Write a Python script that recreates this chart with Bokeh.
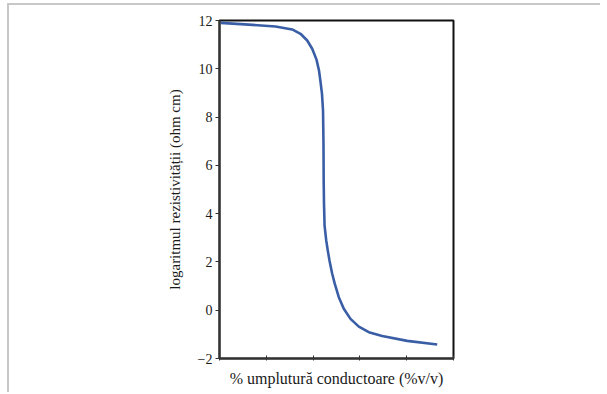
from bokeh.plotting import figure
from bokeh.embed import file_html
from bokeh.resources import INLINE
from bokeh.models import FixedTicker, Range1d

# data (filler % v/v, log resistivity)
filler = [0.21, 6.26, 11.97, 15.53, 17.31, 18.74, 19.81, 20.73, 21.26, 21.58, 21.90,
          22.12, 22.22, 22.26, 22.33, 22.45, 22.80, 23.14, 23.50, 24.08, 24.64, 25.49,
          26.56, 27.99, 29.77, 31.90, 34.76, 40.11, 46.52]
log_res = [11.90, 11.83, 11.75, 11.63, 11.45, 11.17, 10.83, 10.38, 9.93, 9.47, 8.96,
           8.27, 6.89, 5.37, 4.41, 3.50, 2.90, 2.47, 2.06, 1.51, 1.09, 0.54,
           0.06, -0.36, -0.68, -0.91, -1.07, -1.27, -1.42]
x_ticks = [0, 10, 20, 30, 40, 50]
y_ticks = [-2, 0, 2, 4, 6, 8, 10, 12]

p = figure(width=600, height=392, output_backend="svg", toolbar_location=None,
           x_range=Range1d(0, 50), y_range=Range1d(-2, 12),
           min_border_left=219, min_border_right=147, min_border_top=20,
           min_border_bottom=34)

p.line(filler, log_res, line_color="#3a5ea6", line_width=2.6, line_join="round")

p.grid.visible = False
p.outline_line_color = "#111111"
p.outline_line_width = 2
p.border_fill_color = None
p.background_fill_color = "white"

font = "Liberation Serif"
p.xaxis.ticker = FixedTicker(ticks=x_ticks)
p.yaxis.ticker = FixedTicker(ticks=y_ticks)
p.xaxis.major_label_overrides = {t: "" for t in x_ticks}
p.xaxis.major_label_standoff = 0
p.xaxis.major_tick_in = 3
p.xaxis.major_tick_out = 2
p.xaxis.minor_tick_line_color = None
p.yaxis.minor_tick_line_color = None
p.yaxis.major_tick_in = 0
p.yaxis.major_tick_out = 4
p.axis.axis_line_color = "#333333"
p.axis.axis_line_width = 2
p.axis.major_tick_line_color = "#333333"

p.yaxis.major_label_text_font = font
p.yaxis.major_label_text_font_size = "14px"
p.yaxis.major_label_text_color = "#1a1a1a"
p.yaxis.major_label_standoff = 3

p.xaxis.axis_label = "% umplutură conductoare (%v/v)"
p.yaxis.axis_label = "logaritmul rezistivității (ohm cm)"
p.axis.axis_label_text_font = font
p.axis.axis_label_text_font_style = "normal"
p.yaxis.axis_label_text_font_size = "15px"
p.xaxis.axis_label_text_font_size = "16px"
p.axis.axis_label_text_color = "#1a1a1a"
p.yaxis.axis_label_standoff = 12
p.xaxis.axis_label_standoff = 9

# grey page edges seen in the screenshot (page background, behind the canvas)
p.styles = {
    "background": "linear-gradient(#c8c8c8,#c8c8c8) 8px 3px / 592px 2px no-repeat, "
                  "linear-gradient(#c8c8c8,#c8c8c8) 7px 3px / 2px 389px no-repeat, white"
}

open("out.html", "w").write(file_html(p, INLINE))
